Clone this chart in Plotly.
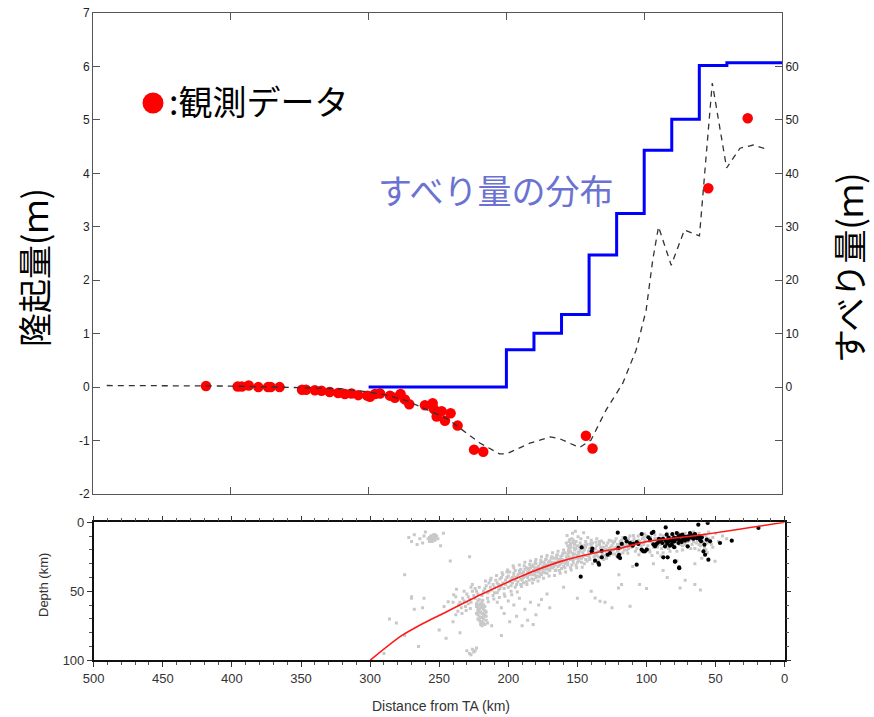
import plotly.graph_objects as go

W, H = 874, 717

# ---------------- data: upper panel ----------------
obs_dist = [418, 395, 392, 387, 380, 373, 371, 364.6, 348.3, 345.4, 339, 334.2, 328.2, 322.1,
            317.2, 312.4, 307.5, 301, 299, 295.4, 291.7, 284.5, 280.9, 276.8, 273.7, 270.5,
            259.1, 253.5, 252.6, 250.6, 247, 244.6, 240.5, 235.4, 223.5, 216.8, 142.3, 137.5,
            53.5, 24.9]
obs_uplift = [0.02, 0.01, 0.01, 0.03, 0.0, 0.0, 0.0, 0.0, -0.05, -0.05, -0.06, -0.07, -0.09, -0.11,
              -0.13, -0.12, -0.15, -0.16, -0.18, -0.13, -0.12, -0.16, -0.2, -0.13, -0.23, -0.32,
              -0.34, -0.3, -0.41, -0.55, -0.45, -0.63, -0.49, -0.72, -1.17, -1.21, -0.91, -1.15,
              3.72, 5.03]

model_dist = [490, 450, 400, 350, 320, 300, 285, 271, 243, 219, 205, 200, 183, 168, 161, 147,
              138.6, 127.7, 115.6, 105.9, 98.6, 93.8, 89.6, 80.4, 70.8, 59.9, 50.6, 40.2, 30.5,
              20.8, 9.9]
model_uplift = [0.03, 0.03, 0.02, -0.01, -0.03, -0.09, -0.16, -0.27, -0.59, -1.05, -1.25, -1.25,
                -1.05, -0.93, -0.97, -1.13, -0.99, -0.43, 0.07, 0.69, 1.44, 2.38, 3.0, 2.28, 2.94,
                2.83, 5.69, 4.10, 4.47, 4.53, 4.44]

slip_dist = [300, 200, 180, 160, 140, 120, 100, 80, 60, 40, 0]
slip_m = [0, 7.0, 10.1, 13.6, 24.7, 32.5, 44.3, 50.1, 60.2, 60.7, 60.7]

uplift_ticks = [-2, -1, 0, 1, 2, 3, 4, 5, 6, 7]
slip_ticks = [-10, 0, 10, 20, 30, 40, 50, 60]
slip_tick_text = ["", "0", "10", "20", "30", "40", "50", "60"]
dist_ticks_top = [400, 300, 200, 100]

# ---------------- data: lower panel ----------------
slab_dist = [0, 61.2, 100, 119.2, 133.6, 162.6, 191.5, 220.5, 249.4, 261.4, 278.3, 300]
slab_depth = [0, 9.2, 14, 18.9, 21.3, 28.5, 39.4, 52.7, 67.2, 73.2, 82.9, 100]

black_dist = [147.6, 146.9, 139.6, 139.2, 137.2, 134.8, 134.3, 132.4, 132.4, 128.1, 126.4, 120.8,
              120.3, 119.9, 119.1, 117.9, 115.5, 114.3, 111.9, 109.5, 107.1, 107.1, 105.9, 103.5,
              103.5, 102.3, 101.1, 99.8, 98.6, 97.4, 96.2, 95.0, 93.8, 92.6, 91.4, 90.2, 89.5,
              88.5, 87.8, 86.6, 86.1, 85.4, 84.7, 84.2, 83.0, 81.7, 81.3, 80.6, 79.8, 79.3, 78.1,
              77.4, 76.9, 76.4, 75.7, 75.0, 74.5, 74.0, 73.3, 72.1, 70.9, 70.2, 69.7, 68.5, 67.8,
              67.3, 66.1, 65.4, 64.9, 63.7, 62.5, 62.0, 61.3, 60.5, 60.0, 58.8, 58.1, 57.6, 56.4,
              55.7, 55.2, 54.0, 46.8, 38.3, 19.0, 79.4, 76.3, 120.4, 88, 86, 84, 82, 80, 78, 76,
              72, 70, 68, 66, 85, 81, 77, 73, 83, 80, 91, 95, 110]
black_depth = [39.4, 18.2, 21.0, 19.1, 27.8, 29.5, 30.7, 20.6, 25.4, 23.5, 22.3, 7.5, 18.6, 23.5,
               25.9, 15.7, 11.4, 13.8, 15.0, 15.7, 14.3, 30.7, 15.7, 8.5, 19.8, 21.0, 21.0, 19.8,
               10.9, 12.6, 7.8, 7.0, 17.4, 15.7, 14.3, 13.8, 12.6, 15.0, 25.4, 17.4, 3.7, 9.0,
               25.4, 14.3, 13.3, 16.2, 8.5, 12.6, 13.8, 28.3, 7.8, 11.9, 15.0, 32.7, 9.5, 13.3,
               14.3, 9.0, 11.4, 13.3, 11.4, 17.4, 10.2, 7.8, 9.5, 10.9, 11.9, 9.0, 8.5, 11.4, 1.7,
               10.2, 12.6, 13.8, 10.9, 21.1, 16.2, 23.5, 12.6, 0.5, 27.1, 13.8, 15.0, 13.3, 4.1,
               28.5, 33.3, 24.9, 12, 13.5, 11, 12.5, 11, 12, 13, 10.5, 12.5, 11, 10, 15.5, 14,
               10.5, 12, 17, 18, 12, 16, 17]

gray_points = [
    # shallow cluster near 255 km
    (255, 10), (254, 12), (253, 11), (256, 13), (252, 10), (255, 14), (257, 11), (253, 13),
    (251, 12), (254, 9), (256, 10), (258, 12), (255, 12), (253, 9), (257, 14),
    (268, 9), (264, 12), (262, 15), (270, 14), (266, 16), (260, 7), (249, 17), (272, 11),
    (247, 8), (261, 10),
    # deep elongated blob near 220 km
    (222, 57), (221, 60), (220, 62), (222, 64), (219, 66), (221, 68), (218, 70), (220, 72),
    (217, 74), (219, 58), (223, 61), (218, 63), (220, 65), (222, 67), (219, 69), (216, 71),
    (218, 73), (221, 63), (217, 67), (220, 59), (223, 66), (219, 61), (216, 68), (221, 71),
    (218, 60), (220, 69), (217, 64), (222, 70), (215, 73), (219, 75), (221, 56), (223, 59),
    (218, 66), (216, 65), (220, 74), (217, 61), (219, 72), (221, 65), (222, 62), (218, 68),
    # main band along the slab
    (240, 58), (236, 60), (233, 55), (230, 52), (228, 56), (226, 50), (224, 48), (222, 52),
    (218, 50), (216, 46), (214, 44), (212, 49), (210, 47), (209, 42), (207, 45), (205, 40),
    (204, 44), (203, 48), (202, 42), (200, 39), (199, 43), (198, 46), (197, 40), (196, 37),
    (195, 42), (194, 45), (193, 38), (192, 35), (191, 41), (190, 37), (189, 44), (188, 34),
    (187, 39), (186, 36), (185, 42), (184, 33), (183, 38), (182, 31), (181, 36), (180, 40),
    (179, 33), (178, 35), (177, 30), (176, 38), (175, 32), (174, 29), (173, 34), (172, 37),
    (171, 31), (170, 28), (169, 33), (168, 30), (167, 26), (166, 35), (165, 29), (164, 32),
    (163, 27), (162, 30), (161, 24), (160, 28), (159, 33), (158, 25), (157, 29), (156, 22),
    (155, 27), (154, 31), (153, 24), (152, 20), (151, 26), (150, 29), (149, 23), (148, 19),
    (147, 26), (146, 22), (145, 30), (144, 18), (143, 24), (142, 21), (141, 27), (140, 17),
    (139, 22), (138, 25), (137, 19), (136, 23), (135, 28), (134, 16), (133, 21), (132, 24),
    (131, 18), (130, 20), (129, 26), (128, 15), (127, 19), (126, 22), (125, 17), (124, 20),
    (123, 14), (122, 18), (121, 21), (120, 16), (119, 19), (118, 13), (117, 22), (116, 17),
    (115, 15), (114, 20), (113, 12), (112, 16), (111, 18), (110, 14), (108, 21), (106, 13),
    (104, 17), (102, 11), (100, 19), (98, 14), (96, 24), (94, 12), (92, 18), (90, 9),
    (88, 22), (86, 13), (84, 19), (82, 10), (80, 16), (78, 21), (76, 12), (74, 17), (72, 8),
    (70, 14), (68, 19), (66, 11), (64, 15), (62, 20), (60, 13), (58, 17), (56, 22),
    (198, 50), (195, 47), (191, 45), (187, 43), (183, 41), (179, 39), (175, 36), (171, 34),
    (167, 32), (163, 35), (159, 30), (155, 33), (151, 31), (147, 29), (143, 28), (139, 30),
    (135, 25), (131, 27), (127, 24), (123, 23), (119, 23),
    (201, 36), (196, 33), (192, 31), (188, 29), (184, 28), (180, 27), (176, 25), (172, 24),
    (168, 22), (164, 21), (160, 20), (156, 18), (152, 16), (148, 15), (144, 14), (140, 13),
    (136, 12),
    (208, 51), (206, 48), (211, 53), (213, 47), (215, 51), (225, 53), (229, 59), (232, 57),
    (234, 62), (227, 47), (189, 40), (185, 38), (181, 33), (177, 34), (173, 31), (169, 29),
    (165, 26), (161, 27), (157, 23), (153, 27), (149, 26), (145, 24), (141, 23), (137, 22),
    (133, 18), (129, 22), (125, 20), (121, 17),
    (238, 54), (235, 58), (232, 50), (231, 61), (229, 54), (227, 58), (226, 45), (224, 55),
    (223, 50), (221, 47), (219, 53), (217, 48), (215, 55), (214, 50), (213, 42), (211, 45),
    (210, 51), (208, 44), (207, 49), (206, 41), (205, 46), (204, 38), (203, 52), (202, 45),
    (201, 40), (200, 47), (199, 36), (198, 41), (197, 44), (196, 39), (195, 35), (194, 40),
    (193, 43), (192, 37), (191, 34), (190, 42), (189, 36), (188, 39), (187, 33), (186, 40),
    (185, 35), (184, 37), (183, 32), (182, 35), (181, 38), (180, 30), (179, 36), (178, 32),
    (177, 37), (176, 29), (175, 34), (174, 31), (173, 27), (172, 33), (171, 29), (170, 35),
    (169, 26), (168, 33), (167, 29), (166, 31), (165, 24), (164, 28), (163, 31), (162, 25),
    (161, 29), (160, 32), (159, 22), (158, 28), (157, 31), (156, 25), (155, 21), (154, 26),
    (153, 29), (152, 23), (151, 19), (150, 24), (149, 28), (148, 21), (147, 17), (146, 25),
    (145, 20), (144, 27), (143, 16), (142, 24), (141, 19), (140, 22), (139, 15), (138, 20),
    (137, 24), (136, 17), (135, 21), (134, 14), (133, 19), (132, 22), (131, 15), (130, 24),
    (129, 17), (128, 20), (127, 13), (126, 18), (125, 23), (124, 15), (123, 19), (122, 12),
    (121, 16), (120, 20), (119, 14), (118, 17), (117, 11), (116, 20), (115, 13), (114, 16),
    (113, 19), (112, 10), (111, 14), (110, 17), (109, 12), (108, 15), (107, 19), (106, 10),
    (105, 14), (104, 21), (103, 12), (102, 16), (101, 13), (100, 10), (99, 17), (98, 20),
    (97, 11), (96, 15), (95, 18), (94, 9), (93, 14), (92, 22), (91, 12), (90, 16), (89, 19),
    (88, 10), (87, 15), (86, 18), (85, 8), (84, 13), (83, 21), (82, 15), (81, 9), (80, 12),
    (79, 18), (78, 14), (77, 8), (76, 16), (75, 11), (74, 20), (73, 13), (72, 16), (71, 10),
    (70, 18), (69, 13), (68, 9), (67, 16), (66, 14), (65, 19), (64, 10), (63, 13), (62, 8),
    (61, 17), (60, 11), (59, 14), (58, 19), (57, 10), (56, 15), (55, 7), (54, 13), (53, 16),
    (52, 11),
    # band edges (wider cloud)
    (190.5, 46.5), (186.5, 45), (182.5, 44), (178.5, 42.5), (174.5, 40.5), (170.5, 39),
    (166.5, 38.5), (162.5, 37), (158.5, 36), (154.5, 34.5), (150.5, 33), (146.5, 32.5),
    (188.5, 31.5), (184.5, 30.5), (180.5, 29), (176.5, 27.5), (172.5, 26.5), (168.5, 25),
    (164.5, 23.5), (160.5, 22.5), (156.5, 20.5), (152.5, 18.5), (148.5, 17.5), (144.5, 16.5),
    (140.5, 15.5), (136.5, 14.5), (132.5, 13.5),
    (157.5, 9.5), (153.5, 8), (149.5, 10.5), (145.5, 7.5), (142.5, 11), (155.5, 12.5),
    (147.5, 12), (151.5, 6.5),
    (216.5, 42.5), (212.5, 40.5), (208.5, 38.5), (204.5, 36.5), (200.5, 34.5), (196.5, 31.5),
    (218.5, 56.5), (214.5, 57.5), (210.5, 55.5), (206.5, 54.5), (202.5, 53.5), (197.5, 52.5),
    (193.5, 50.5), (236.5, 64.5), (233.5, 66), (230.5, 64), (227.5, 62.5), (239.5, 52.5),
    (243.5, 57.5), (246.5, 61), (237.5, 48.5),
    (185.5, 33.5), (181.5, 41.5), (177.5, 39.5), (173.5, 36.5), (169.5, 31.5), (165.5, 34.5),
    (161.5, 33.5), (157.5, 26.5), (153.5, 22.5), (149.5, 21.5), (145.5, 18.5), (141.5, 25.5),
    (137.5, 27.5), (133.5, 25.5), (129.5, 19.5), (125.5, 13.5), (121.5, 24.5), (117.5, 15.5),
    (113.5, 22.5), (109.5, 9.5), (105.5, 23.5), (101.5, 8.5), (97.5, 21.5), (93.5, 11.5),
    (89.5, 24.5),
    # upper cluster near 155 km
    (156, 14), (155, 16), (154, 15), (157, 17), (155, 18), (153, 13), (156, 19), (152, 15),
    (158, 15), (154, 12), (151, 14), (150, 17),
    # shallow points behind the black events
    (50, 8), (55, 12), (48, 14), (58, 9), (52, 18), (45, 10), (62, 16), (66, 7), (42, 12),
    (57, 20), (50.4, 28.3),
    # scattered below the band
    (208, 58), (205, 62), (200, 57), (196, 60), (192, 55), (188, 63), (184, 58), (180, 67),
    (186, 71), (178, 60), (194, 68), (199, 72), (190, 75), (182, 74), (176, 56), (170, 62),
    (203, 66),
    # deep streak near 226 km
    (230, 93), (228, 95), (226, 92), (225, 94), (223, 91), (227, 96), (224, 93),
    # sparse outliers
    (286, 70), (281, 73), (268, 63), (262, 62), (275, 82), (250, 78), (245, 84), (240, 72),
    (235, 80), (238, 67), (265, 90), (290, 95), (270, 55), (275, 38), (228, 25), (242, 28),
    (212, 75), (205, 82), (172, 52), (160, 47), (150, 55), (140, 50), (120, 38), (110, 32),
    (95, 30), (88, 35), (65, 30), (78, 28), (125, 62), (130, 58), (100, 48), (85, 40),
    (60, 26), (105, 45), (118, 45), (120.3, 47.6), (137.2, 54.9), (133.6, 57.3),
    (111.9, 60.9), (75.7, 47.6), (72, 42), (65, 45), (61, 49), (270, 54), (261, 55),
]
gray_dist = [p[0] for p in gray_points]
gray_depth = [p[1] for p in gray_points]

depth_ticks = [0, 50, 100]

# ---------------- figure ----------------
fig = go.Figure()

fig.add_trace(go.Scatter(x=obs_dist, y=obs_uplift, mode="markers", xaxis="x", yaxis="y",
                         marker=dict(color="#ff0000", size=10.5, line=dict(width=0)),
                         showlegend=False, hoverinfo="skip"))
fig.add_trace(go.Scatter(x=model_dist, y=model_uplift, mode="lines", xaxis="x", yaxis="y",
                         line=dict(color="#333333", width=1.3, dash="6px,5px"),
                         showlegend=False, hoverinfo="skip"))
fig.add_trace(go.Scatter(x=slip_dist, y=slip_m, mode="lines", xaxis="x", yaxis="y2",
                         line=dict(color="#0000ff", width=3, shape="hv"),
                         showlegend=False, hoverinfo="skip"))

fig.add_trace(go.Scatter(x=gray_dist, y=gray_depth, mode="markers", xaxis="x2", yaxis="y3",
                         marker=dict(color="#c8c8c8", size=3, symbol="square", line=dict(width=0)),
                         showlegend=False, hoverinfo="skip"))
fig.add_trace(go.Scatter(x=black_dist, y=black_depth, mode="markers", xaxis="x2", yaxis="y3",
                         marker=dict(color="#000000", size=4.2, line=dict(width=0)),
                         showlegend=False, hoverinfo="skip"))
fig.add_trace(go.Scatter(x=slab_dist, y=slab_depth, mode="lines", xaxis="x2", yaxis="y3",
                         line=dict(color="#ff1a1a", width=1.6, shape="spline", smoothing=0.6),
                         showlegend=False, hoverinfo="skip"))

def px(x):
    return x / W

def py(y):
    return 1 - y / H

tick_font = dict(family="Liberation Sans, Arial, sans-serif", size=12, color="#222222")
frame = "#555555"

fig.update_layout(
    width=W, height=H,
    margin=dict(l=0, r=0, t=0, b=0, autoexpand=False),
    paper_bgcolor="white", plot_bgcolor="white",
    showlegend=False,
    xaxis=dict(domain=[px(93), px(782)], anchor="y", range=[500, 0], automargin=False,
               tickvals=dist_ticks_top, ticks="inside", ticklen=7, tickcolor=frame,
               showticklabels=False, showline=True, linecolor=frame, linewidth=1,
               mirror="ticks", showgrid=False, zeroline=False),
    yaxis=dict(domain=[py(494), py(13)], anchor="x", range=[-2, 7], automargin=False,
               tickvals=uplift_ticks, ticktext=[str(v) for v in uplift_ticks],
               ticks="inside", ticklen=7, tickcolor=frame, tickfont=tick_font,
               showline=True, linecolor=frame, linewidth=1, showgrid=False, zeroline=False),
    yaxis2=dict(overlaying="y", side="right", anchor="x", range=[-20, 70], automargin=False,
                tickvals=slip_ticks, ticktext=slip_tick_text,
                ticks="inside", ticklen=7, tickcolor=frame, tickfont=tick_font,
                showline=True, linecolor=frame, linewidth=1, showgrid=False, zeroline=False),
    xaxis2=dict(domain=[px(93.7), px(784.7)], anchor="y3", range=[500, 0], automargin=False,
                tickvals=[500, 450, 400, 350, 300, 250, 200, 150, 100, 50, 0],
                ticks="outside", ticklen=5, tickcolor="#333333",
                minor=dict(dtick=10, ticks="outside", ticklen=3, tickcolor="#555555"),
                tickfont=dict(family="Liberation Sans, Arial, sans-serif", size=13, color="#333333"),
                showline=True, linecolor="#111111", linewidth=1.5, mirror="ticks",
                showgrid=False, zeroline=False),
    yaxis3=dict(domain=[py(660.3), py(522.3)], anchor="x2", range=[100, 0], automargin=False,
                tickvals=depth_ticks, ticks="outside", ticklen=5, tickcolor="#333333",
                minor=dict(dtick=10, ticks="outside", ticklen=3, tickcolor="#555555"),
                tickfont=dict(family="Liberation Sans, Arial, sans-serif", size=13, color="#333333"),
                showline=True, linecolor="#111111", linewidth=1.5, mirror="ticks",
                showgrid=False, zeroline=False),
)

jp = "Noto Sans CJK JP"
fig.add_annotation(x=px(33), y=py(268), xref="paper", yref="paper", text="隆起量(ｍ)",
                   textangle=-90, showarrow=False, xanchor="center", yanchor="middle",
                   font=dict(family=jp, size=34, color="#000000"))
fig.add_annotation(x=px(848), y=py(268), xref="paper", yref="paper", text="すべり量(ｍ)",
                   textangle=-90, showarrow=False, xanchor="center", yanchor="middle",
                   font=dict(family=jp, size=34, color="#000000"))
fig.add_annotation(x=px(167), y=py(100), xref="paper", yref="paper", text=":観測データ",
                   showarrow=False, xanchor="left", yanchor="middle",
                   font=dict(family=jp, size=34, color="#000000"))
fig.add_annotation(x=px(376), y=py(189), xref="paper", yref="paper", text="すべり量の分布",
                   showarrow=False, xanchor="left", yanchor="middle",
                   font=dict(family=jp, size=34, color="#6b72d2"))
fig.add_shape(type="circle", xref="paper", yref="paper",
              x0=px(142.5), x1=px(163.5), y0=py(113.5), y1=py(92.5),
              fillcolor="#ff0000", line=dict(width=0))

fig.add_annotation(x=px(43), y=py(585), xref="paper", yref="paper", text="Depth (km)",
                   textangle=-90, showarrow=False, xanchor="center", yanchor="middle",
                   font=dict(family="Liberation Sans, Arial, sans-serif", size=13, color="#333333"))
fig.add_annotation(x=px(441), y=py(706), xref="paper", yref="paper", text="Distance from TA (km)",
                   showarrow=False, xanchor="center", yanchor="middle",
                   font=dict(family="Liberation Sans, Arial, sans-serif", size=14, color="#333333"))

fig.write_html("out.html")
